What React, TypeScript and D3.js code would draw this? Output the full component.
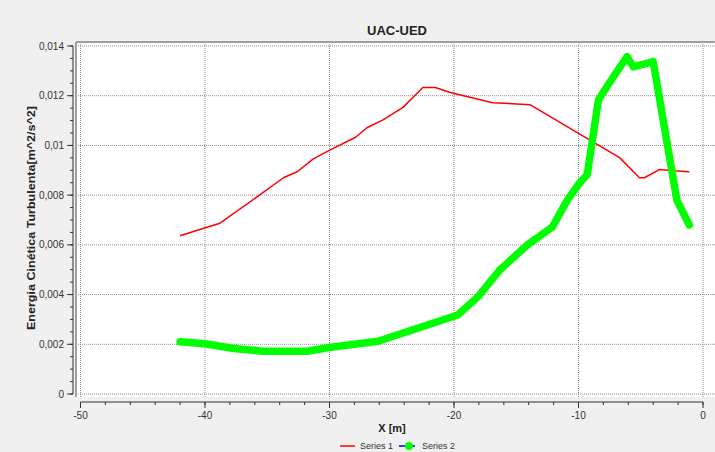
import React from "react";
import * as d3 from "d3";

const title = "UAC-UED";
const xLabel = "X [m]";
const yLabel = "Energia Cinética Turbulenta[m^2/s^2]";
const seriesNames = ["Series 1", "Series 2"];

const xTicks = [-50, -40, -30, -20, -10, 0];
const yTicks = [0, 0.002, 0.004, 0.006, 0.008, 0.01, 0.012, 0.014];

const s1X = [-42, -40.1, -38.8, -35.6, -33.7, -32.6, -31.3, -29.9, -27.9, -27, -25.7, -24.1, -22.5, -21.5, -20.3, -16.9, -13.9, -6.7, -5.1, -4.7, -3.5, -2.4, -1.1];
const s1Y = [0.00637, 0.00667, 0.00687, 0.00801, 0.0087, 0.00894, 0.00946, 0.00983, 0.01033, 0.01071, 0.01103, 0.01153, 0.01233, 0.01233, 0.01213, 0.01172, 0.01164, 0.00951, 0.0087, 0.0087, 0.00903, 0.00898, 0.00894];

const s2X = [-42, -40, -37.7, -35.3, -31.8, -29.9, -26.1, -19.7, -18.1, -16.3, -14.1, -12.1, -10.9, -9.9, -9.3, -8.4, -7.5, -6.1, -5.6, -4.0, -2.1, -1.1];
const s2Y = [0.0021, 0.00202, 0.00183, 0.00172, 0.00172, 0.00188, 0.00212, 0.00318, 0.0039, 0.005, 0.006, 0.00672, 0.0078, 0.0085, 0.00882, 0.01183, 0.01253, 0.01357, 0.01316, 0.01337, 0.0078, 0.0068];

const W = 715;
const H = 452;
const font = "'Liberation Sans', Arial, sans-serif";

export default function App() {
  const x = d3.scaleLinear().domain([-50, 0]).range([80.5, 703]);
  const y = d3.scaleLinear().domain([0, 0.014]).range([394, 46]);

  const line = d3
    .line<[number, number]>()
    .x((d) => x(d[0]))
    .y((d) => y(d[1]));

  const d1 = line(s1X.map((v, i) => [v, s1Y[i]] as [number, number])) || "";
  const d2 = line(s2X.map((v, i) => [v, s2Y[i]] as [number, number])) || "";

  const xMinor = d3.range(-50, 0.001, 2);
  const yMinor = d3.range(0, 0.01401, 0.0005);
  const fmtY = (v: number) => (v === 0 ? "0" : String(+v.toFixed(3)).replace(".", ","));

  const plotL = 76;
  const plotT = 42;
  const plotR = 715;
  const plotB = 397;

  return (
    <svg
      width={W}
      height={H}
      style={{ position: "absolute", left: 0, top: 0, display: "block" }}
      fontFamily={font}
    >
      <rect x={0} y={0} width={W} height={H} fill="#f0f0f0" />
      <rect x={plotL} y={plotT} width={plotR - plotL} height={plotB - plotT} fill="#ffffff" />
      {/* grid */}
      {xTicks.map((t) => (
        <line key={"gx" + t} x1={x(t)} x2={x(t)} y1={plotT} y2={plotB} stroke="#8c8c8c" strokeDasharray="1,1" strokeWidth={1} />
      ))}
      {yTicks.map((t) => (
        <line key={"gy" + t} x1={plotL} x2={plotR} y1={y(t)} y2={y(t)} stroke="#8c8c8c" strokeDasharray="1,1" strokeWidth={1} />
      ))}
      {/* plot border */}
      <line x1={plotL} x2={plotR} y1={plotT} y2={plotT} stroke="#a0a0a0" strokeWidth={2} />
      <line x1={plotL} x2={plotL} y1={plotT} y2={plotB} stroke="#a0a0a0" strokeWidth={2} />

      {/* series */}
      <path d={d1} fill="none" stroke="#ff0000" strokeWidth={1.5} strokeLinejoin="round" />
      <path d={d2} fill="none" stroke="#00ff00" strokeWidth={7.5} strokeLinejoin="round" strokeLinecap="round" />

      {/* y axis */}
      <line x1={73} x2={73} y1={y(0.014)} y2={y(0)} stroke="#333" strokeWidth={1} />
      {yMinor.map((t, i) => (
        <line key={"ym" + i} x1={70} x2={73} y1={y(t)} y2={y(t)} stroke="#333" />
      ))}
      {yTicks.map((t) => (
        <g key={"yt" + t}>
          <line x1={67} x2={73} y1={y(t)} y2={y(t)} stroke="#333" />
          <text x={64} y={y(t)} dy="0.35em" textAnchor="end" fontSize={10} fill="#333">
            {fmtY(t)}
          </text>
        </g>
      ))}

      {/* x axis */}
      <line x1={x(-50)} x2={x(0)} y1={402} y2={402} stroke="#333" strokeWidth={1} />
      {xMinor.map((t, i) => (
        <line key={"xm" + i} x1={x(t)} x2={x(t)} y1={402} y2={405} stroke="#333" />
      ))}
      {xTicks.map((t) => (
        <g key={"xt" + t}>
          <line x1={x(t)} x2={x(t)} y1={402} y2={408} stroke="#333" />
          <text x={x(t)} y={415} dy="0.35em" textAnchor="middle" fontSize={10} fill="#333">
            {String(t)}
          </text>
        </g>
      ))}

      {/* titles */}
      <text x={397} y={30} dy="0.35em" textAnchor="middle" fontSize={13} fontWeight="bold" fill="#222">
        {title}
      </text>
      <text x={392} y={428} dy="0.35em" textAnchor="middle" fontSize={11} fontWeight="bold" fill="#222">
        {xLabel}
      </text>
      <text
        transform={`translate(31,218) rotate(-90)`}
        textAnchor="middle"
        dy="0.35em"
        fontSize={11}
        fontWeight="bold"
        fill="#222"
        textLength={224}
        lengthAdjust="spacingAndGlyphs"
      >
        {yLabel}
      </text>

      {/* legend */}
      <line x1={340} x2={355} y1={446} y2={446} stroke="#ff0000" strokeWidth={1.5} />
      <text x={360} y={446} dy="0.35em" fontSize={9} fill="#333">
        {seriesNames[0]}
      </text>
      <line x1={399} x2={415} y1={446} y2={446} stroke="#0000ff" strokeWidth={1.5} />
      <circle cx={409} cy={446} r={4} fill="#00ff00" />
      <text x={422} y={446} dy="0.35em" fontSize={9} fill="#333">
        {seriesNames[1]}
      </text>
    </svg>
  );
}
